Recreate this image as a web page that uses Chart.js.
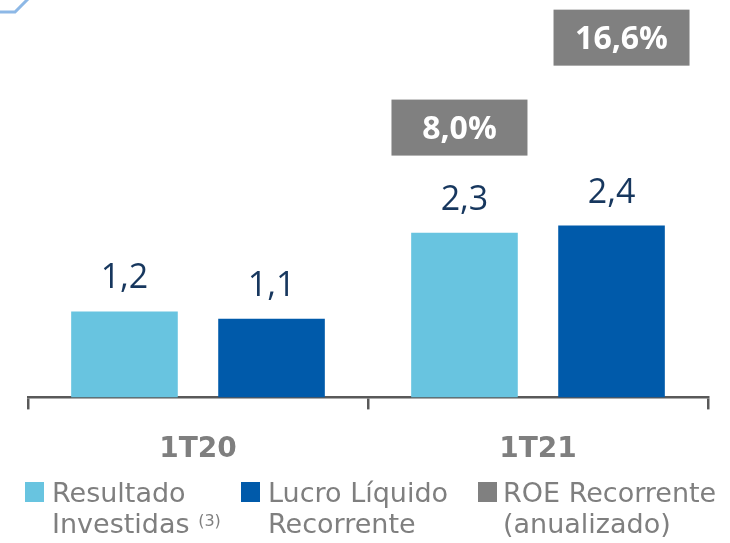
<!DOCTYPE html>
<html><head><meta charset="utf-8">
<script src="https://cdn.jsdelivr.net/npm/chart.js@4/dist/chart.umd.min.js"></script>
<style>
html,body{margin:0;padding:0;background:#fff;}
#wrap{position:relative;width:730px;height:543px;overflow:hidden;}
#c{position:absolute;left:0;top:0;}
.leg{position:absolute;font-family:'DejaVu Sans',sans-serif;font-size:27px;color:#7f7f7f;line-height:31px;white-space:nowrap;}
.sw{position:absolute;width:19px;height:20px;}
sup{font-size:16px;vertical-align:top;position:relative;top:-3px;}
</style></head><body>
<div id="wrap"><canvas id="c" width="730" height="543"></canvas>
<div id="legend"></div></div>
<script>
const categories = ['1T20', '1T21'];
const resultadoInvestidas = [1.2, 2.3];
const lucroLiquido = [1.1, 2.4];
const roeValues = [8.0, 16.6];
const roeLabels = ['8,0%', '16,6%'];
const seriesNames = ['Resultado Investidas', 'Lucro Líquido Recorrente', 'ROE Recorrente (anualizado)'];
const seriesColors = ['#68c4e0', '#005aaa', '#808080'];

function fmt(v){ return v.toFixed(1).replace('.', ','); }

const decoPlugin = {
  id: 'deco',
  afterDraw(chart){
    const ctx = chart.ctx;
    ctx.save();
    ctx.strokeStyle = '#8db8e6';
    ctx.lineWidth = 3;
    ctx.beginPath();
    ctx.moveTo(0, 12); ctx.lineTo(15, 12); ctx.lineTo(28, -1);
    ctx.stroke();
    ctx.restore();
  }
};

const valueLabels = {
  id: 'valueLabels',
  afterDatasetsDraw(chart){
    const ctx = chart.ctx;
    ctx.save();
    ctx.font = '400 34px "Open Sans"';
    ctx.fillStyle = '#17375e';
    ctx.textAlign = 'center';
    ctx.textBaseline = 'alphabetic';
    chart.data.datasets.forEach((ds, di) => {
      const meta = chart.getDatasetMeta(di);
      meta.data.forEach((bar, i) => {
        ctx.fillText(fmt(ds.data[i]), bar.x, bar.y - 23);
      });
    });
    ctx.restore();
  }
};

const roeBoxes = {
  id: 'roeBoxes',
  afterDatasetsDraw(chart){
    const ctx = chart.ctx;
    const y2 = chart.scales.y2;
    ctx.save();
    roeValues.forEach((v, i) => {
      const bar = chart.getDatasetMeta(i).data[1];
      const x = bar.x - 5 + i * 15;
      const y = y2.getPixelForValue(v);
      ctx.fillStyle = seriesColors[2];
      ctx.fillRect(x - 68, y - 28, 136, 56);
      ctx.fillStyle = '#ffffff';
      ctx.font = 'bold 32px "Open Sans"';
      ctx.textAlign = 'center';
      ctx.textBaseline = 'middle';
      ctx.fillText(roeLabels[i], x, y + 2);
    });
    ctx.restore();
  }
};

new Chart(document.getElementById('c'), {
  type: 'bar',
  data: {
    labels: categories,
    datasets: [
      { label: seriesNames[0], data: resultadoInvestidas, backgroundColor: seriesColors[0] },
      { label: seriesNames[1], data: lucroLiquido, backgroundColor: seriesColors[1] }
    ]
  },
  options: {
    responsive: false,
    animation: false,
    categoryPercentage: 0.865,
    barPercentage: 0.725,
    layout: { padding: { left: 28, right: 22, top: 0, bottom: 52 } },
    plugins: { legend: { display: false }, tooltip: { enabled: false } },
    scales: {
      x: {
        offset: true,
        grid: { offset: true, drawOnChartArea: false, drawTicks: true, tickLength: 12, color: '#595959', lineWidth: 2.5 },
        border: { display: true, color: '#595959', width: 2.5 },
        ticks: { color: '#7f7f7f', font: { family: 'DejaVu Sans', size: 28, weight: 'bold' }, padding: 24 }
      },
      y: { display: false, min: 0, max: 5.55 },
      y2: { type: 'linear', display: false, min: -17.8, max: 20.2 }
    }
  },
  plugins: [decoPlugin, valueLabels, roeBoxes]
});

// legend
const legendItems = [
  { sw: 25, tx: 52, lines: ['Resultado', 'Investidas <sup>(3)</sup>'] },
  { sw: 241, tx: 268, lines: ['Lucro Líquido', 'Recorrente'] },
  { sw: 478, tx: 503, lines: ['ROE Recorrente', '(anualizado)'] }
];
const leg = document.getElementById('legend');
legendItems.forEach((it, i) => {
  const s = document.createElement('div');
  s.className = 'sw';
  s.style.left = it.sw + 'px'; s.style.top = '482px';
  s.style.background = seriesColors[i];
  leg.appendChild(s);
  const t = document.createElement('div');
  t.className = 'leg';
  t.style.left = it.tx + 'px'; t.style.top = '477px';
  t.innerHTML = it.lines.join('<br>');
  leg.appendChild(t);
});
</script>
</body></html>
